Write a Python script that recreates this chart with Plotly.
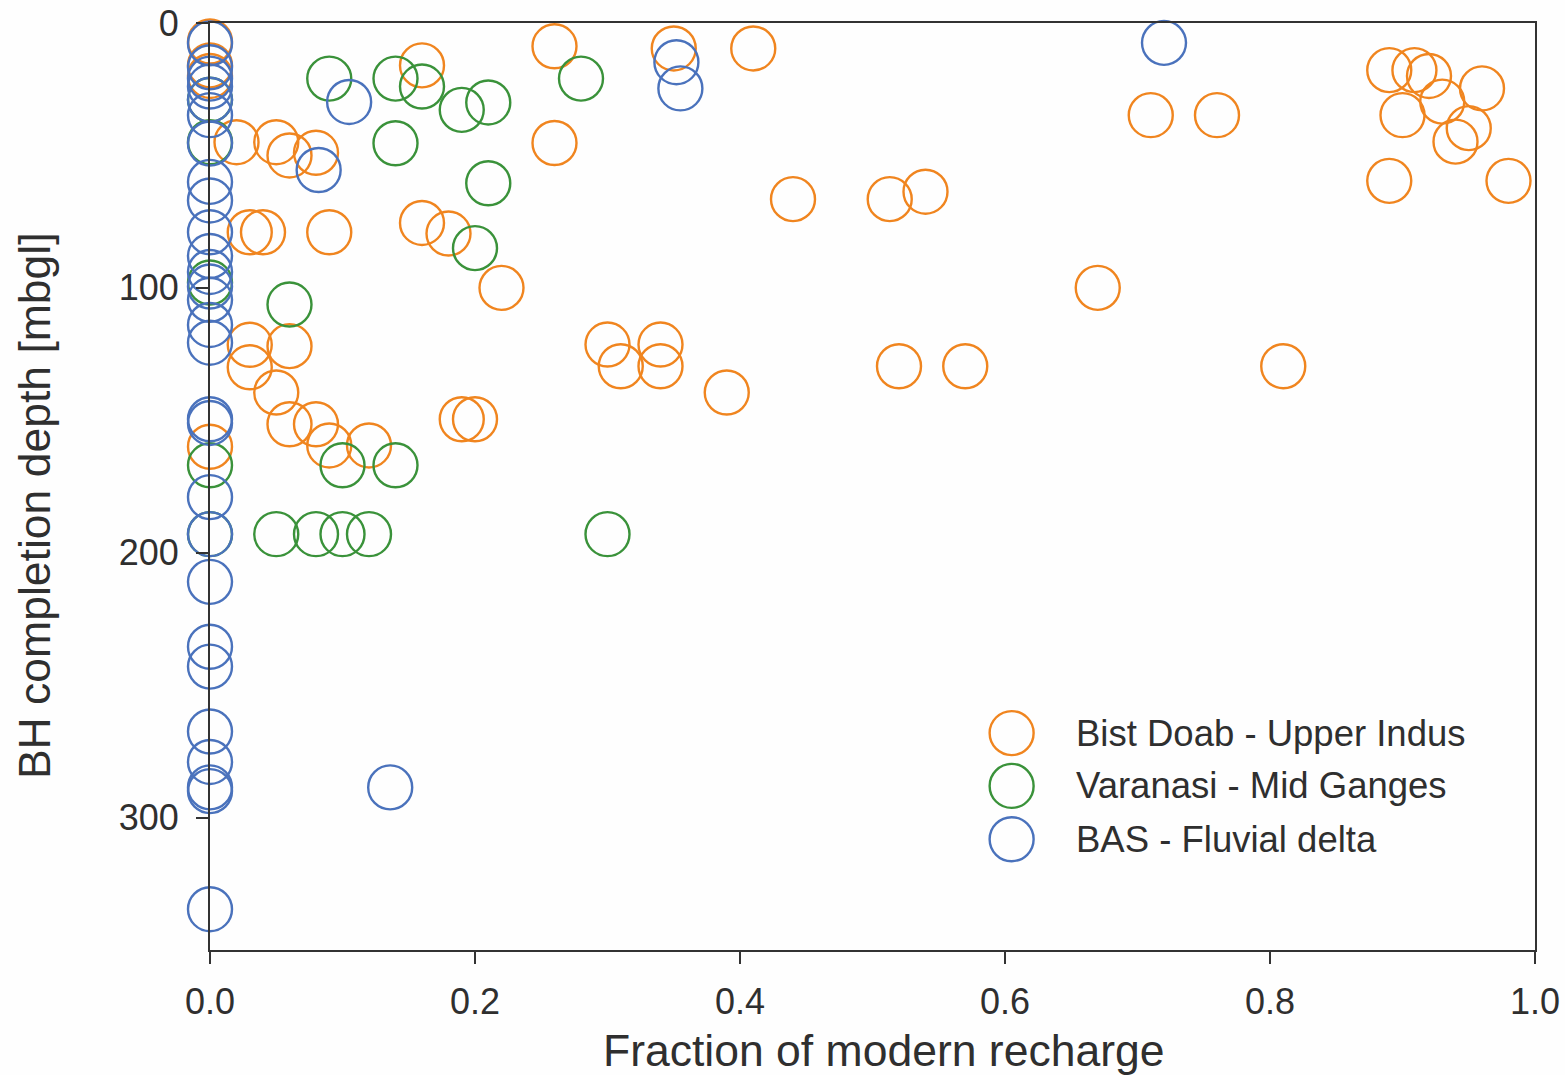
import plotly.graph_objects as go

# Fraction of modern recharge vs borehole completion depth, three study areas
series_names = ["Bist Doab - Upper Indus", "Varanasi - Mid Ganges", "BAS - Fluvial delta"]
series_colors = ["#F0851F", "#3A923A", "#4A72BC"]

bist_x = [0, 0, 0, 0.02, 0.05, 0.06, 0.08, 0.16, 0.03, 0.04, 0.09, 0.16, 0.18, 0.22,
          0.03, 0.06, 0.03, 0.05, 0.06, 0.08, 0.09, 0.12, 0, 0.19, 0.20,
          0.26, 0.26, 0.35, 0.41, 0.44, 0.513, 0.54, 0.30, 0.31, 0.34, 0.34, 0.39,
          0.52, 0.57, 0.67, 0.81, 0.71, 0.76, 0.89, 0.909, 0.92, 0.93, 0.96,
          0.90, 0.95, 0.94, 0.89, 0.98]
bist_y = [7, 16, 20, 45, 45, 50, 49, 16, 79, 79, 79, 75.5, 79.5, 100,
          121.5, 122, 130, 139.5, 151.5, 151.5, 159.5, 159.5, 160, 149.6, 149.6,
          8.8, 45.3, 9.6, 9.6, 66.5, 66.5, 63.7, 121.4, 129.6, 121.4, 129.6, 139.5,
          129.6, 129.6, 100, 129.6, 34.8, 34.8, 17.8, 17.8, 20, 29.7, 24.7,
          34.8, 39.7, 44.8, 59.6, 59.6]

varanasi_x = [0.09, 0.14, 0.16, 0.19, 0.21, 0.14, 0.21, 0.28, 0.20, 0.06, 0.10, 0.14,
              0.05, 0.08, 0.10, 0.12, 0.30, 0, 0, 0, 0, 0]
varanasi_y = [21, 21, 24, 32.8, 30, 45.4, 60.5, 21, 85, 106.3, 167, 167,
              193, 193, 193, 193, 193, 29, 45, 98, 167, 193]

bas_x = [0, 0, 0, 0, 0, 0, 0, 0, 0, 0, 0, 0, 0, 0, 0, 0, 0, 0, 0, 0, 0, 0, 0, 0, 0, 0, 0, 0,
         0.105, 0.082, 0.352, 0.355, 0.72, 0.136]
bas_y = [7.7, 16.7, 21, 24, 29, 34.8, 45.5, 60, 67, 79, 88, 94, 99.5, 104.5, 114, 120.7,
         149.6, 151, 179, 193, 211, 235.5, 243, 267.5, 279, 288.6, 290, 334.6,
         29.8, 55.5, 14.8, 24.7, 7.5, 288.6]

x_ticks = [0.0, 0.2, 0.4, 0.6, 0.8, 1.0]
x_tick_text = ["0.0", "0.2", "0.4", "0.6", "0.8", "1.0"]
y_ticks = [0, 100, 200, 300]
y_tick_text = ["0", "100", "200", "300"]
x_title = "Fraction of modern recharge"
y_title = "BH completion depth [mbgl]"

FONT = "Liberation Sans, Arial, Helvetica, sans-serif"
INK = "#2f2f2f"

fig = go.Figure()
for name, color, xs, ys in zip(series_names, series_colors,
                               [bist_x, varanasi_x, bas_x],
                               [bist_y, varanasi_y, bas_y]):
    fig.add_trace(go.Scatter(
        x=xs, y=ys, mode="markers", name=name, cliponaxis=False,
        marker=dict(symbol="circle-open", size=44, color=color,
                    line=dict(width=2.4, color=color)),
        showlegend=False,
    ))

# Legend drawn as large open circles with labels, lower right of the plot area
legend_x = 0.605
legend_rows = [0.234, 0.177, 0.1195]
rx, ry = 22 / 1325, 22 / 927
for name, color, yc in zip(series_names, series_colors, legend_rows):
    fig.add_shape(type="circle", xref="paper", yref="paper",
                  x0=legend_x - rx, x1=legend_x + rx, y0=yc - ry, y1=yc + ry,
                  line=dict(color=color, width=2.4))
    fig.add_annotation(xref="paper", yref="paper", x=0.652, y=yc, text=name,
                       showarrow=False, xanchor="left", yanchor="middle",
                       font=dict(family=FONT, size=36.5, color=INK))

# Axis titles
fig.add_annotation(xref="paper", yref="paper", x=0.508, y=-0.108, text=x_title,
                   showarrow=False, xanchor="center", yanchor="middle",
                   font=dict(family=FONT, size=44.5, color=INK))
fig.add_annotation(xref="paper", yref="paper", x=-0.132, y=0.479, text=y_title,
                   showarrow=False, xanchor="center", yanchor="middle", textangle=-90,
                   font=dict(family=FONT, size=44.5, color=INK))

axis_common = dict(showline=True, linecolor="#333333", linewidth=2, mirror=True,
                   showgrid=False, zeroline=False, ticks="outside", ticklen=12,
                   tickwidth=2, tickcolor="#333333", automargin=False,
                   tickfont=dict(family=FONT, size=36, color=INK))

fig.update_xaxes(range=[0, 1], tickvals=x_ticks, ticktext=x_tick_text,
                 ticklabelstandoff=7, **axis_common)
fig.update_yaxes(range=[350, 0], tickvals=y_ticks, ticktext=y_tick_text,
                 ticklabelstandoff=10, **axis_common)

fig.update_layout(
    width=1565, height=1075,
    margin=dict(l=210, r=30, t=23, b=125),
    paper_bgcolor="#fefefe", plot_bgcolor="#fefefe",
    font=dict(family=FONT, color=INK),
)

fig.write_html("out.html")
